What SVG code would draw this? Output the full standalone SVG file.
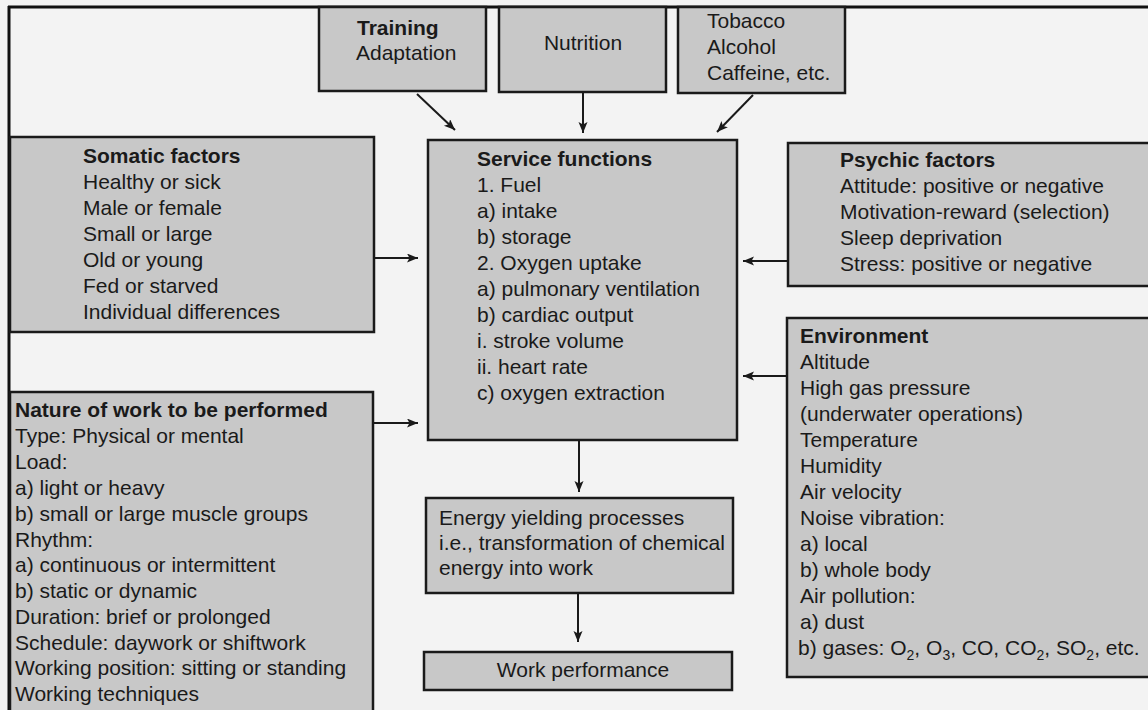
<svg xmlns="http://www.w3.org/2000/svg" width="1148" height="710" viewBox="0 0 1148 710">
<defs>
<marker id="ah" markerUnits="userSpaceOnUse" markerWidth="12" markerHeight="10" refX="11" refY="4.5" orient="auto">
<path d="M0,0 L11,4.5 L0,9 L2.5,4.5 z" fill="#1a1a1a"/>
</marker>
</defs>
<style>
.box{fill:#c8c8c8;stroke:#1a1a1a;stroke-width:2.5}
.t{font-family:"Liberation Sans",Arial,sans-serif;font-size:21px;fill:#1a1a1a}
.b{font-weight:bold}
.c{stroke:#1a1a1a;stroke-width:2;fill:none;marker-end:url(#ah)}
.sub{font-size:14px}
</style>
<rect x="0" y="0" width="1148" height="710" fill="#f3f3f3"/>
<g id="frame">
<line x1="8" y1="7" x2="1148" y2="7" stroke="#111" stroke-width="3"/>
<line x1="9" y1="6" x2="9" y2="710" stroke="#111" stroke-width="3"/>
</g>
<g id="training">
<rect class="box" x="319" y="7" width="167" height="84"/>
<text class="t b" x="357" y="35">Training</text>
<text class="t" x="356" y="60">Adaptation</text>
</g>
<g id="nutrition">
<rect class="box" x="499" y="7" width="167" height="85"/>
<text class="t" x="583" y="50" text-anchor="middle">Nutrition</text>
</g>
<g id="tobacco">
<rect class="box" x="678" y="7" width="167" height="86"/>
<text class="t" x="707" y="28">Tobacco</text>
<text class="t" x="707" y="54">Alcohol</text>
<text class="t" x="707" y="80">Caffeine, etc.</text>
</g>
<g id="somatic">
<rect class="box" x="10" y="137" width="364" height="195"/>
<text class="t b" x="83" y="163">Somatic factors</text>
<text class="t" x="83" y="189">Healthy or sick</text>
<text class="t" x="83" y="215">Male or female</text>
<text class="t" x="83" y="241">Small or large</text>
<text class="t" x="83" y="267">Old or young</text>
<text class="t" x="83" y="293">Fed or starved</text>
<text class="t" x="83" y="319">Individual differences</text>
</g>
<g id="service">
<rect class="box" x="428" y="140" width="309" height="300"/>
<text class="t b" x="477" y="166">Service functions</text>
<text class="t" x="477" y="192">1. Fuel</text>
<text class="t" x="477" y="218">a) intake</text>
<text class="t" x="477" y="244">b) storage</text>
<text class="t" x="477" y="270">2. Oxygen uptake</text>
<text class="t" x="477" y="296">a) pulmonary ventilation</text>
<text class="t" x="477" y="322">b) cardiac output</text>
<text class="t" x="477" y="348">i. stroke volume</text>
<text class="t" x="477" y="374">ii. heart rate</text>
<text class="t" x="477" y="400">c) oxygen extraction</text>
</g>
<g id="psychic">
<rect class="box" x="788" y="143" width="380" height="143"/>
<text class="t b" x="840" y="167">Psychic factors</text>
<text class="t" x="840" y="193">Attitude: positive or negative</text>
<text class="t" x="840" y="219">Motivation-reward (selection)</text>
<text class="t" x="840" y="245">Sleep deprivation</text>
<text class="t" x="840" y="271">Stress: positive or negative</text>
</g>
<g id="environment">
<rect class="box" x="787" y="318" width="380" height="359"/>
<text class="t b" x="800" y="343">Environment</text>
<text class="t" x="800" y="369">Altitude</text>
<text class="t" x="800" y="395">High gas pressure</text>
<text class="t" x="800" y="421">(underwater operations)</text>
<text class="t" x="800" y="447">Temperature</text>
<text class="t" x="800" y="473">Humidity</text>
<text class="t" x="800" y="499">Air velocity</text>
<text class="t" x="800" y="525">Noise vibration:</text>
<text class="t" x="800" y="551">a) local</text>
<text class="t" x="800" y="577">b) whole body</text>
<text class="t" x="800" y="603">Air pollution:</text>
<text class="t" x="800" y="629">a) dust</text>
<text class="t" x="798" y="655">b) gases: O<tspan class="sub" dy="5">2</tspan><tspan dy="-5">, O</tspan><tspan class="sub" dy="5">3</tspan><tspan dy="-5">, CO, CO</tspan><tspan class="sub" dy="5">2</tspan><tspan dy="-5">, SO</tspan><tspan class="sub" dy="5">2</tspan><tspan dy="-5">, etc.</tspan></text>
</g>
<g id="nature">
<rect class="box" x="10" y="392" width="363" height="330"/>
<text class="t b" x="15" y="417">Nature of work to be performed</text>
<text class="t" x="15" y="443">Type: Physical or mental</text>
<text class="t" x="15" y="469">Load:</text>
<text class="t" x="15" y="495">a) light or heavy</text>
<text class="t" x="15" y="521">b) small or large muscle groups</text>
<text class="t" x="15" y="547">Rhythm:</text>
<text class="t" x="15" y="572">a) continuous or intermittent</text>
<text class="t" x="15" y="598">b) static or dynamic</text>
<text class="t" x="15" y="624">Duration: brief or prolonged</text>
<text class="t" x="15" y="650">Schedule: daywork or shiftwork</text>
<text class="t" x="15" y="675">Working position: sitting or standing</text>
<text class="t" x="15" y="701">Working techniques</text>
</g>
<g id="energy">
<rect class="box" x="426" y="498" width="307" height="95"/>
<text class="t" x="439" y="525">Energy yielding processes</text>
<text class="t" x="439" y="550">i.e., transformation of chemical</text>
<text class="t" x="439" y="575">energy into work</text>
</g>
<g id="work">
<rect class="box" x="424" y="652" width="308" height="38"/>
<text class="t" x="583" y="677" text-anchor="middle">Work performance</text>
</g>
<g id="connectors">
<line class="c" x1="417" y1="94" x2="455" y2="130"/>
<line class="c" x1="583" y1="93" x2="583" y2="133"/>
<line class="c" x1="753" y1="95" x2="717" y2="132"/>
<line class="c" x1="375" y1="258" x2="418" y2="258"/>
<line class="c" x1="374" y1="423" x2="418" y2="423"/>
<line class="c" x1="787" y1="261" x2="743" y2="261"/>
<line class="c" x1="786" y1="376" x2="743" y2="376"/>
<line class="c" x1="579" y1="441" x2="579" y2="492"/>
<line class="c" x1="578" y1="594" x2="578" y2="642"/>
</g>
</svg>
